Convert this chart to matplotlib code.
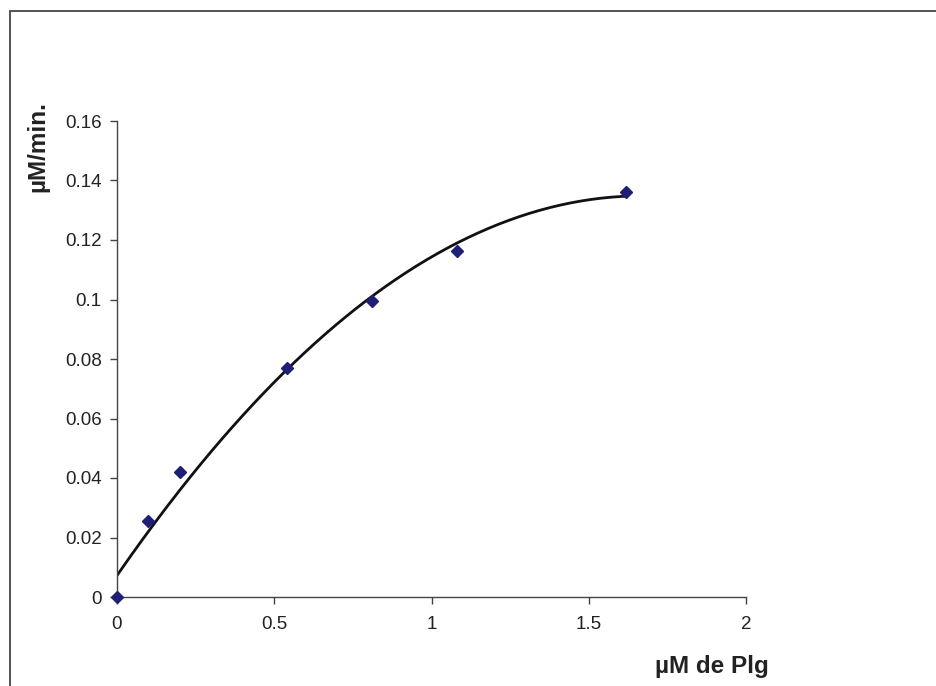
import numpy as np
import matplotlib
matplotlib.use("Agg")
import matplotlib.pyplot as plt
from matplotlib.patches import Rectangle
from matplotlib.ticker import FuncFormatter

plt.rcParams['font.family'] = ['Liberation Sans', 'DejaVu Sans']

# data
plg = [0, 0.1, 0.2, 0.54, 0.81, 1.08, 1.62]
rate = [0, 0.0256, 0.0419, 0.0769, 0.0995, 0.1163, 0.1361]
x_ticks = [0, 0.5, 1, 1.5, 2]
y_ticks = [0, 0.02, 0.04, 0.06, 0.08, 0.1, 0.12, 0.14, 0.16]

fig = plt.figure(figsize=(9.36, 6.86), dpi=100)
ax = fig.add_axes([117 / 936, 89 / 686, 629 / 936, 476 / 686])

# 2nd order polynomial trendline (Excel style)
coef = np.polyfit(plg, rate, 2)
xs = np.linspace(0, max(plg), 200)
ax.plot(xs, np.polyval(coef, xs), color='#111111', lw=2.0, zorder=2)

ax.plot(plg, rate, linestyle='none', marker='D', markersize=6.5,
        color='#1f1f78', clip_on=False, zorder=3)

ax.set_xlim(0, 2)
ax.set_ylim(0, 0.16)
ax.set_xticks(x_ticks)
ax.set_yticks(y_ticks)
fmt = FuncFormatter(lambda v, p: '%g' % v)
ax.xaxis.set_major_formatter(fmt)
ax.yaxis.set_major_formatter(fmt)

for s in ['top', 'right']:
    ax.spines[s].set_visible(False)
for s in ['left', 'bottom']:
    ax.spines[s].set_color('#444444')
    ax.spines[s].set_linewidth(1.0)
ax.tick_params(direction='out', length=5, width=1, color='#444444',
               labelsize=13.5, labelcolor='#222222', pad=6)
ax.tick_params(axis='x', pad=9)

fig.text(712 / 936, 1 - 667 / 686, 'µM de Plg', fontsize=17.5, fontweight='bold',
         ha='center', va='center', color='#222222')
fig.text(38 / 936, 1 - 147 / 686, 'µM/min.', fontsize=17.5, fontweight='bold',
         ha='center', va='center', rotation=90, color='#222222')

# chart area border
fig.patches.append(Rectangle((10 / 936, -0.05), 1.0, 1 - 11 / 686 + 0.05,
                             transform=fig.transFigure, fill=False,
                             edgecolor='#444444', lw=1.3))

fig.savefig('out.png', dpi=100)
